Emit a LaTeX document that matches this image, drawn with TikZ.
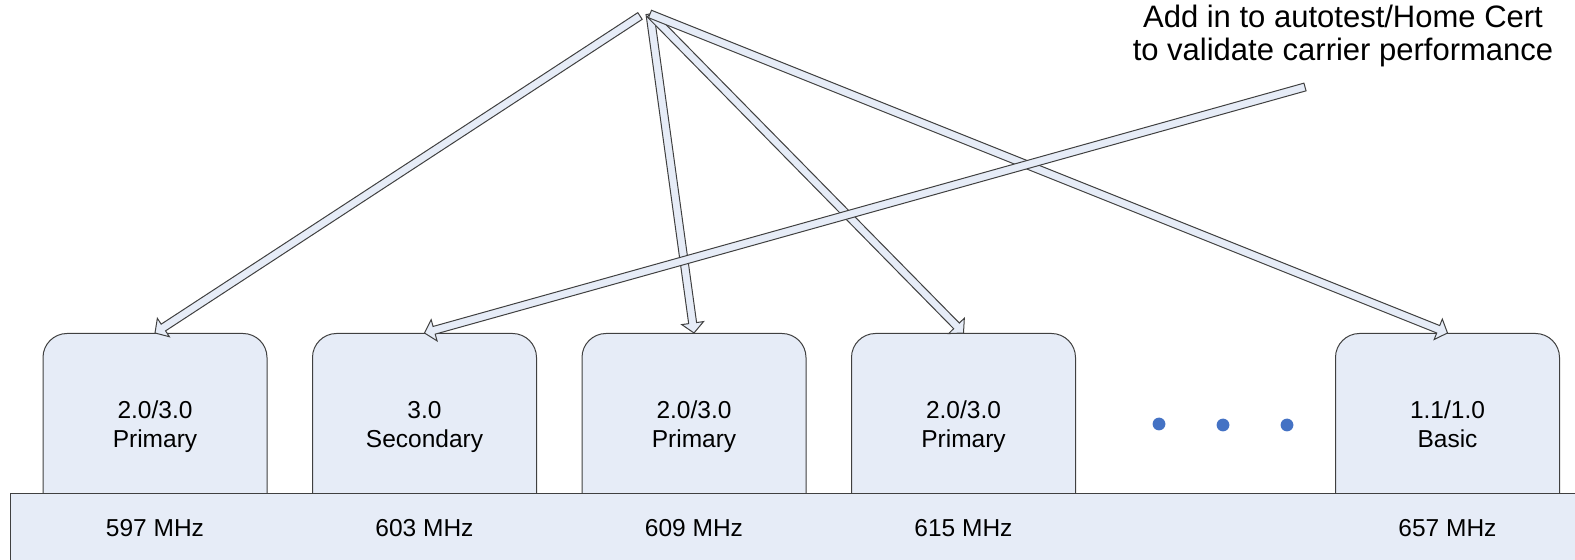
\documentclass[tikz,border=0pt]{standalone}
\usepackage{fontspec}
\setmainfont{Liberation Sans}
\usetikzlibrary{positioning, calc}
\definecolor{CellFill}{HTML}{E6ECF7}
\definecolor{EdgeGray}{HTML}{404040}
\definecolor{DotBlue}{HTML}{4472C4}

% hollow block arrow from #1 (tail) to #2 (tip)
\newcommand{\blockarrow}[2]{%
  \path ($(#2)!5pt!(#1)$) coordinate (hb);
  \draw[draw=EdgeGray, fill=CellFill, line width=0.5pt, line join=miter]
    ($(#1)!2pt!90:(#2)$) -- ($(hb)!2pt!-90:(#1)$) -- ($(hb)!5.5pt!-90:(#1)$) -- (#2)
    -- ($(hb)!5.5pt!90:(#1)$) -- ($(hb)!2pt!90:(#1)$) -- ($(#1)!2pt!-90:(#2)$) -- cycle;
}

\begin{document}
\begin{tikzpicture}[x=0.5pt, y=-0.5pt, font=\fontsize{12.25}{14.5}\selectfont, node distance=22.25pt,
    cell/.style={draw=EdgeGray, fill=CellFill, line width=0.5pt, rounded corners=12pt,
      minimum width=112pt, minimum height=93.5pt, inner sep=0pt, align=center, text depth=2.6pt}]
        \useasboundingbox (0,0) rectangle (1575,560);

        % Carriers
        \node[cell, anchor=north] (b1) at (155,333) {2.0/3.0\\Primary};
        \node[cell, right=of b1] (b2) {3.0\\Secondary};
        \node[cell, right=of b2] (b3) {2.0/3.0\\Primary};
        \node[cell, right=of b3] (b4) {2.0/3.0\\Primary};
        \node[cell, right=129.5pt of b4] (b5) {1.1/1.0\\Basic};

        % Spectrum bar
        \node[draw=EdgeGray, fill=CellFill, line width=0.5pt, anchor=north west,
          minimum width=795pt, minimum height=35pt, inner sep=0pt] (bar) at (10,493) {};
        \node (f1) at (b1 |- bar) {597 MHz};
        \node (f2) at (b2 |- bar) {603 MHz};
        \node (f3) at (b3 |- bar) {609 MHz};
        \node (f4) at (b4 |- bar) {615 MHz};
        \node (f5) at (b5 |- bar) {657 MHz};

        % More carriers
        \foreach \x/\y in {1159/424, 1223/425, 1287/425}
          \fill[DotBlue] (\x,\y) circle (3.2pt);

        % Note
        \node[align=center, font=\fontsize{15.5}{16.5}\selectfont] (note) at (1343,36)
          {Add in to autotest/Home Cert\\to validate carrier performance};

        % Arrows
        \coordinate (hubL) at (640,16);
        \coordinate (hub) at (650,14);
        \coordinate (tail) at (1305,87);
        \blockarrow{hubL}{b1.north}
        \blockarrow{hub}{b3.north}
        \blockarrow{hub}{b4.north}
        \blockarrow{hub}{b5.north}
        \blockarrow{tail}{b2.north}
    \end{tikzpicture}
\end{document}
